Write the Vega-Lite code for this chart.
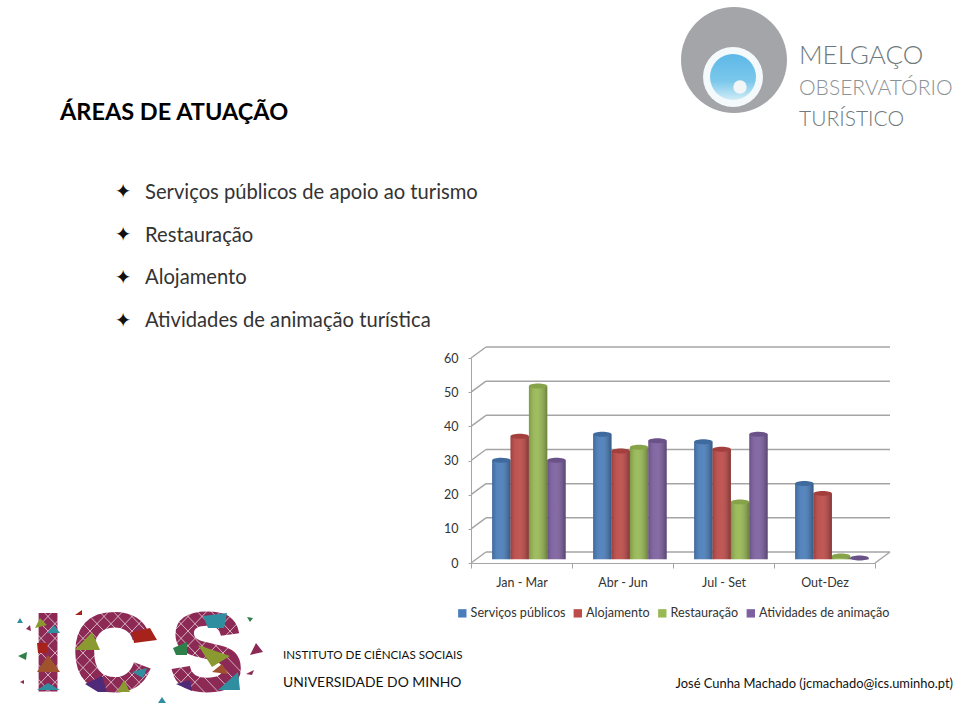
{
"$schema":"https://vega.github.io/schema/vega-lite/v6.json",
"autosize":"none","width":404,"height":205,
"padding":{"left":471,"top":358,"right":85,"bottom":150},
"background":"white",
"config":{"view":{"stroke":null},"font":"Lato","axisY":{"labelOverlap":false,"labelBound":false,"labelFlush":false,"tickCount":7}},
"datasets":{
"bars":[
{"p":"Jan - Mar","s":"Serviços públicos","v":29},{"p":"Jan - Mar","s":"Alojamento","v":36},{"p":"Jan - Mar","s":"Restauração","v":50.7},{"p":"Jan - Mar","s":"Atividades de animação","v":29},
{"p":"Abr - Jun","s":"Serviços públicos","v":36.6},{"p":"Abr - Jun","s":"Alojamento","v":31.7},{"p":"Abr - Jun","s":"Restauração","v":32.8},{"p":"Abr - Jun","s":"Atividades de animação","v":34.7},
{"p":"Jul - Set","s":"Serviços públicos","v":34.4},{"p":"Jul - Set","s":"Alojamento","v":32.2},{"p":"Jul - Set","s":"Restauração","v":16.8},{"p":"Jul - Set","s":"Atividades de animação","v":36.6},
{"p":"Out-Dez","s":"Serviços públicos","v":22.2},{"p":"Out-Dez","s":"Alojamento","v":19.3},{"p":"Out-Dez","s":"Restauração","v":1},{"p":"Out-Dez","s":"Atividades de animação","v":0.4}],
"grid":[{"g":0},{"g":10},{"g":20},{"g":30},{"g":40},{"g":50},{"g":60}]
},
"layer":[
{"data":{"name":"grid"},"mark":{"type":"rule","xOffset":15,"x2Offset":15,"yOffset":-11,"color":"#a5a5a5","strokeWidth":1.5},
 "encoding":{"y":{"field":"g","type":"quantitative","scale":{"domain":[0,60]},"axis":{"orient":"left","values":[0,10,20,30,40,50,60],"grid":false,"title":null,"domainColor":"#a5a5a5","tickColor":"#a5a5a5","tickSize":3,"labelFontSize":12.5,"labelColor":"#333333","labelPadding":10,"labelOverlap":false}},"x":{"value":0},"x2":{"value":404}}},
{"data":{"name":"grid"},"mark":{"type":"point","shape":"M0,0 L1,-0.733","size":900,"filled":false,"stroke":"#a5a5a5","strokeWidth":1.5,"opacity":1},
 "encoding":{"y":{"field":"g","type":"quantitative"},"x":{"value":0}}},
{"data":{"values":[{"g":0}]},"mark":{"type":"point","shape":"M0,0 L1,-0.733","size":900,"filled":false,"stroke":"#a5a5a5","strokeWidth":1.5,"opacity":1},
 "encoding":{"y":{"field":"g","type":"quantitative"},"x":{"value":404}}},
{"data":{"name":"bars"},"mark":{"type":"bar","yOffset":-3.7,"y2Offset":-3.7},
 "encoding":{
  "x":{"field":"p","type":"nominal","sort":["Jan - Mar","Abr - Jun","Jul - Set","Out-Dez"],"scale":{"paddingInner":0,"paddingOuter":0},"axis":{"title":null,"labelAngle":0,"labelFontSize":12.5,"labelColor":"#333333","domainColor":"#a5a5a5","tickColor":"#a5a5a5","tickBand":"extent","tickSize":5,"labelPadding":8,"grid":false}},
  "xOffset":{"field":"s","type":"nominal","sort":["Serviços públicos","Alojamento","Restauração","Atividades de animação"],"scale":{"paddingInner":0,"paddingOuter":0.747,"range":[7.4,108.4]}},
  "y":{"field":"v","type":"quantitative"},
  "color":{"field":"s","type":"nominal","sort":["Serviços públicos","Alojamento","Restauração","Atividades de animação"],
   "scale":{"domain":["Serviços públicos","Alojamento","Restauração","Atividades de animação"],"range":["#4a7ebb","#be4b48","#98b954","#7d60a0"]},
   "legend":{"orient":"none","legendX":-15,"legendY":249,"direction":"horizontal","columns":4,"title":null,"symbolType":"square","symbolSize":70,"symbolStrokeWidth":0,"labelFontSize":12.6,"labelColor":"#333333","columnPadding":5.5,"labelOffset":2}}
 }},
{"data":{"name":"bars"},"mark":{"type":"bar","yOffset":-3.7,"y2Offset":-3.7,"fill":{"gradient":"linear","x1":0,"x2":1,"y1":0,"y2":0,"stops":[{"offset":0,"color":"rgba(0,0,0,0.18)"},{"offset":0.38,"color":"rgba(255,255,255,0.06)"},{"offset":1,"color":"rgba(0,0,0,0.3)"}]}},
 "encoding":{
  "x":{"field":"p","type":"nominal","sort":["Jan - Mar","Abr - Jun","Jul - Set","Out-Dez"]},
  "xOffset":{"field":"s","type":"nominal","sort":["Serviços públicos","Alojamento","Restauração","Atividades de animação"]},
  "y":{"field":"v","type":"quantitative"}
 }},
{"data":{"name":"bars"},"mark":{"type":"point","shape":"M-1,0 A1,0.27 0 1,1 1,0 A1,0.27 0 1,1 -1,0Z","size":335,"filled":true,"opacity":1,"yOffset":-3.7},
 "encoding":{
  "x":{"field":"p","type":"nominal","sort":["Jan - Mar","Abr - Jun","Jul - Set","Out-Dez"]},
  "xOffset":{"field":"s","type":"nominal","sort":["Serviços públicos","Alojamento","Restauração","Atividades de animação"]},
  "y":{"field":"v","type":"quantitative"},
  "fill":{"field":"s","type":"nominal","legend":null,"scale":{"domain":["Serviços públicos","Alojamento","Restauração","Atividades de animação"],"range":["#3f6a9e","#a33f3c","#86a34a","#6a5289"]}}
 }},
{"data":{"values":[{"t":"ÁREAS DE ATUAÇÃO"}]},"mark":{"type":"text","align":"left","baseline":"middle","font":"Lato","fontWeight":"bold","fontSize":23.5,"color":"#000000"},
 "encoding":{"text":{"field":"t"},"x":{"value":-411},"y":{"value":-245}}},
{"data":{"values":[{"t":"✦"}]},"mark":{"type":"text","align":"center","baseline":"middle","font":"DejaVu Sans","fontSize":20,"color":"#111111"},
 "encoding":{"text":{"field":"t"},"x":{"value":-348},"y":{"value":-166}}},
{"data":{"values":[{"t":"✦"}]},"mark":{"type":"text","align":"center","baseline":"middle","font":"DejaVu Sans","fontSize":20,"color":"#111111"},
 "encoding":{"text":{"field":"t"},"x":{"value":-348},"y":{"value":-123}}},
{"data":{"values":[{"t":"✦"}]},"mark":{"type":"text","align":"center","baseline":"middle","font":"DejaVu Sans","fontSize":20,"color":"#111111"},
 "encoding":{"text":{"field":"t"},"x":{"value":-348},"y":{"value":-80}}},
{"data":{"values":[{"t":"✦"}]},"mark":{"type":"text","align":"center","baseline":"middle","font":"DejaVu Sans","fontSize":20,"color":"#111111"},
 "encoding":{"text":{"field":"t"},"x":{"value":-348},"y":{"value":-37}}},
{"data":{"values":[{"t":"Serviços públicos de apoio ao turismo"}]},"mark":{"type":"text","align":"left","baseline":"middle","font":"Lato","fontSize":20.2,"color":"#333333"},
 "encoding":{"text":{"field":"t"},"x":{"value":-326},"y":{"value":-165}}},
{"data":{"values":[{"t":"Restauração"}]},"mark":{"type":"text","align":"left","baseline":"middle","font":"Lato","fontSize":20.2,"color":"#333333"},
 "encoding":{"text":{"field":"t"},"x":{"value":-326},"y":{"value":-122}}},
{"data":{"values":[{"t":"Alojamento"}]},"mark":{"type":"text","align":"left","baseline":"middle","font":"Lato","fontSize":20.2,"color":"#333333"},
 "encoding":{"text":{"field":"t"},"x":{"value":-326},"y":{"value":-80}}},
{"data":{"values":[{"t":"Atividades de animação turística"}]},"mark":{"type":"text","align":"left","baseline":"middle","font":"Lato","fontSize":20.2,"color":"#333333"},
 "encoding":{"text":{"field":"t"},"x":{"value":-326},"y":{"value":-37}}},
{"data":{"values":[{"t":"INSTITUTO DE CIÊNCIAS SOCIAIS"}]},"mark":{"type":"text","align":"left","baseline":"middle","font":"Lato","fontSize":11.6,"color":"#111111"},
 "encoding":{"text":{"field":"t"},"x":{"value":-188},"y":{"value":298}}},
{"data":{"values":[{"t":"UNIVERSIDADE DO MINHO"}]},"mark":{"type":"text","align":"left","baseline":"middle","font":"Lato","fontSize":13.9,"color":"#111111"},
 "encoding":{"text":{"field":"t"},"x":{"value":-188},"y":{"value":325}}},
{"data":{"values":[{"t":"José Cunha Machado (jcmachado@ics.uminho.pt)"}]},"mark":{"type":"text","align":"right","baseline":"middle","font":"Lato","fontSize":12.9,"color":"#111111"},
 "encoding":{"text":{"field":"t"},"x":{"value":482},"y":{"value":326}}},
{"data":{"values":[{"t":"I"}]},"mark":{"type":"text","align":"center","baseline":"middle","font":"Liberation Sans","fontWeight":"bold","fontSize":110,"color":"#8c2a55","stroke":"#8c2a55","strokeWidth":3},
 "encoding":{"text":{"field":"t"},"x":{"value":-423},"y":{"value":299}}},
{"data":{"values":[{"t":"C"}]},"mark":{"type":"text","align":"center","baseline":"middle","font":"Liberation Sans","fontWeight":"bold","fontSize":110,"color":"#8c2a55","stroke":"#8c2a55","strokeWidth":3},
 "encoding":{"text":{"field":"t"},"x":{"value":-359},"y":{"value":299}}},
{"data":{"values":[{"t":"S"}]},"mark":{"type":"text","align":"center","baseline":"middle","font":"Liberation Sans","fontWeight":"bold","fontSize":110,"color":"#8c2a55","stroke":"#8c2a55","strokeWidth":3},
 "encoding":{"text":{"field":"t"},"x":{"value":-264},"y":{"value":299}}},
{"data":{"values":[{"k":"mosaic gaps"}]},"mark":{"type":"point","shape":"M-60,700 L30,606 M-46,700 L44,606 M-32,700 L58,606 M-18,700 L72,606 M-4,700 L86,606 M10,700 L100,606 M24,700 L114,606 M38,700 L128,606 M52,700 L142,606 M66,700 L156,606 M80,700 L170,606 M94,700 L184,606 M108,700 L198,606 M122,700 L212,606 M136,700 L226,606 M150,700 L240,606 M164,700 L254,606 M178,700 L268,606 M30,700 L-60,606 M44,700 L-46,606 M58,700 L-32,606 M72,700 L-18,606 M86,700 L-4,606 M100,700 L10,606 M114,700 L24,606 M128,700 L38,606 M142,700 L52,606 M156,700 L66,606 M170,700 L80,606 M184,700 L94,606 M198,700 L108,606 M212,700 L122,606 M226,700 L136,606 M240,700 L150,606 M254,700 L164,606 M268,700 L178,606 M282,700 L192,606 M296,700 L206,606 M310,700 L220,606 M324,700 L234,606","size":4,"filled":false,"stroke":"#ffffff","strokeWidth":0.8,"opacity":0.8},
 "encoding":{"x":{"value":-471},"y":{"value":-358}}},
{"data":{"values":[{"k":"olive"}]},"mark":{"type":"point","shape":"M75,650 L92,632 L100,650Z M198,645 L230,656 L212,667Z M117,692 L124,680 L130,692Z M35,628 L40,618 L47,625Z","size":4,"filled":true,"fill":"#8a9a30","opacity":1},
 "encoding":{"x":{"value":-471},"y":{"value":-358}}},
{"data":{"values":[{"k":"teal"}]},"mark":{"type":"point","shape":"M203,616 L227,613 L224,628 L208,628Z M132,672 L147,668 L143,678Z M218,690 L238,672 L240,690Z M37,690 L48,683 L60,690Z M47,633 L54,625 L60,633Z M17,623 L20,618 L23,623Z M158,703 L162,697 L166,703Z","size":4,"filled":true,"fill":"#2f8fa0","opacity":1},
 "encoding":{"x":{"value":-471},"y":{"value":-358}}},
{"data":{"values":[{"k":"red"}]},"mark":{"type":"point","shape":"M132,632 L150,628 L157,640 L134,643Z M37,643 L48,643 L47,653 L38,653Z M75,615 L82,610 L82,615Z","size":4,"filled":true,"fill":"#a8221c","opacity":1},
 "encoding":{"x":{"value":-471},"y":{"value":-358}}},
{"data":{"values":[{"k":"brown"}]},"mark":{"type":"point","shape":"M37,672 L48,655 L60,672Z M212,672 L222,664 L228,674Z","size":4,"filled":true,"fill":"#a0522d","opacity":1},
 "encoding":{"x":{"value":-471},"y":{"value":-358}}},
{"data":{"values":[{"k":"green"}]},"mark":{"type":"point","shape":"M173,648 L187,642 L187,655 L176,655Z M18,656 L27,652 L26,660Z M247,617 L253,618 L250,622Z","size":4,"filled":true,"fill":"#2f7f4a","opacity":1},
 "encoding":{"x":{"value":-471},"y":{"value":-358}}},
{"data":{"values":[{"k":"violet"}]},"mark":{"type":"point","shape":"M85,684 L102,676 L107,692 L98,692Z M176,684 L190,680 L192,691Z","size":4,"filled":true,"fill":"#4e2a78","opacity":1},
 "encoding":{"x":{"value":-471},"y":{"value":-358}}},
{"data":{"values":[{"k":"specks"}]},"mark":{"type":"point","shape":"M250,655 L256,643 L263,652Z M20,682 L24,680 L24,684Z M26,629 L30,625 L31,631Z M246,674 L254,670 L252,675Z","size":4,"filled":true,"fill":"#8c2a55","opacity":1},
 "encoding":{"x":{"value":-471},"y":{"value":-358}}},
{"data":{"values":[{"k":"a"}]},"mark":{"type":"point","shape":"circle","filled":true,"opacity":1,"size":11236,"color":"#a3a5a8"},
 "encoding":{"x":{"value":263},"y":{"value":-298}}},
{"data":{"values":[{"k":"b"}]},"mark":{"type":"point","shape":"circle","filled":true,"opacity":1,"size":3600,"color":"#f4fafc"},
 "encoding":{"x":{"value":262},"y":{"value":-281}}},
{"data":{"values":[{"k":"c"}]},"mark":{"type":"point","shape":"circle","filled":true,"opacity":1,"size":2116,"fill":{"gradient":"linear","x1":0,"x2":0,"y1":0,"y2":1,"stops":[{"offset":0,"color":"#5db8e6"},{"offset":0.6,"color":"#7cc8ec"},{"offset":1,"color":"#d0ecf6"}]}},
 "encoding":{"x":{"value":262},"y":{"value":-281}}},
{"data":{"values":[{"k":"d"}]},"mark":{"type":"point","shape":"circle","filled":true,"opacity":1,"size":180,"color":"#f2f6f6"},
 "encoding":{"x":{"value":269},"y":{"value":-271}}},
{"data":{"values":[{"t":"MELGAÇO"}]},"mark":{"type":"text","align":"left","baseline":"middle","font":"Lato","fontWeight":300,"fontSize":26,"color":"#6f7a7d"},
 "encoding":{"text":{"field":"t"},"x":{"value":328},"y":{"value":-302}}},
{"data":{"values":[{"t":"OBSERVATÓRIO"}]},"mark":{"type":"text","align":"left","baseline":"middle","font":"Lato","fontWeight":300,"fontSize":21,"color":"#8b9296"},
 "encoding":{"text":{"field":"t"},"x":{"value":328},"y":{"value":-269}}},
{"data":{"values":[{"t":"TURÍSTICO"}]},"mark":{"type":"text","align":"left","baseline":"middle","font":"Lato","fontWeight":300,"fontSize":21,"color":"#6f7a7d"},
 "encoding":{"text":{"field":"t"},"x":{"value":328},"y":{"value":-238}}}
]
}
